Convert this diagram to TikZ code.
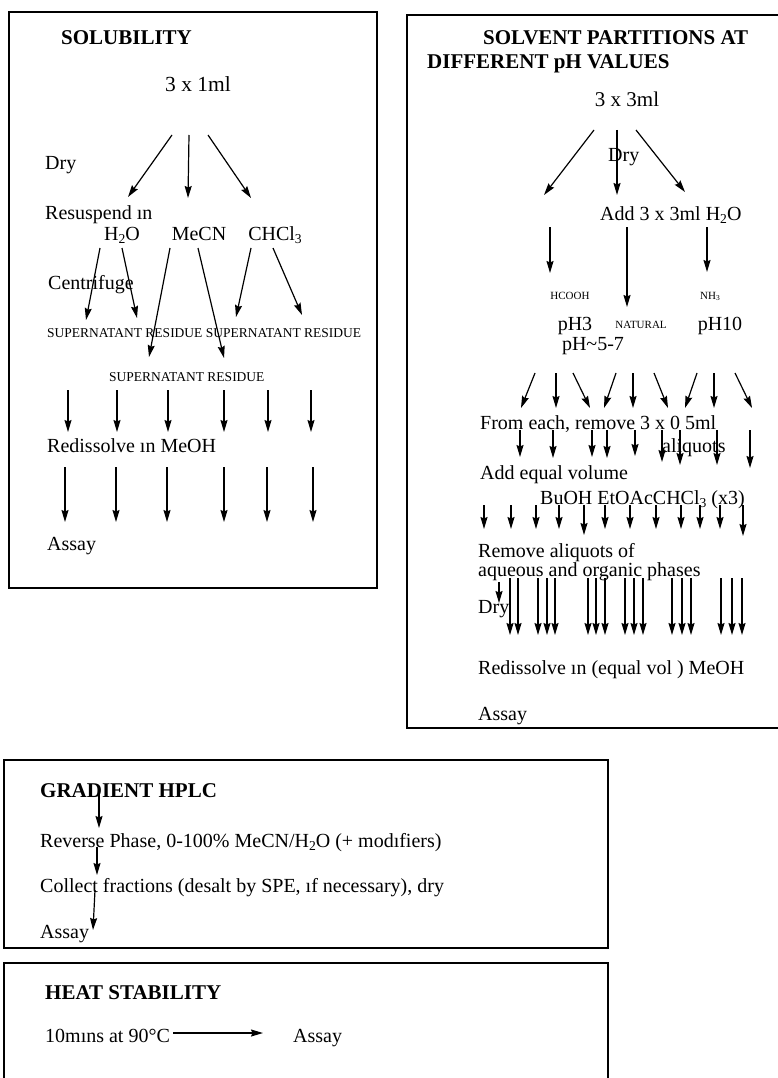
\documentclass[tikz,border=0pt]{standalone}
\usepackage{fontspec}
\setmainfont{Liberation Serif}
\usetikzlibrary{arrows.meta}
\newcommand\sbs[1]{\raisebox{-0.35ex}{\scalebox{0.68}{#1}}}
\newcommand\arw[5]{\coordinate (#1s) at (#2,#3);\coordinate (#1e) at (#4,#5);\draw[arr] (#1s) -- (#1e);}
\begin{document}
\begin{tikzpicture}[x=1pt,y=-1pt,
  txt/.style={inner sep=0pt, anchor=base west, font=\fontsize{20}{22}\selectfont},
  ctxt/.style={txt, anchor=base},
  hd/.style={txt, font=\fontsize{21}{23}\selectfont\bfseries},
  sm/.style={txt, font=\fontsize{13.5}{15}\selectfont},
  tinyc/.style={ctxt, font=\fontsize{11}{12}\selectfont},
  arr/.style={-{Stealth[length=12pt,width=7pt,inset=1.5pt]}, line width=1.2pt},
  frame/.style={line width=1.4pt}]
\useasboundingbox (0,0) rectangle (778,1078);
\fill[white] (0,0) rectangle (778,1078);

% ---------------- SOLUBILITY ----------------
\draw[frame] (9,12) rectangle (377,588);
\node[hd] (solt) at (61,45) {SOLUBILITY};
\node[ctxt, font=\fontsize{21.5}{23}\selectfont] (s3) at (198,92) {3 x 1ml};
\node[txt] (sdry) at (45,170) {Dry};
\node[txt] (sres) at (45,219) {Resuspend ın};
\node[ctxt] (sh2o) at (122,240) {H\sbs{2}O};
\node[ctxt] (smecn) at (199,240) {MeCN};
\node[ctxt] (schcl) at (275,240) {CHCl\sbs{3}};
\node[txt] (scen) at (48,289) {Centrifuge};
\node[sm] (ssr1) at (47,337) {SUPERNATANT RESIDUE SUPERNATANT RESIDUE};
\node[sm] (ssr2) at (109,381) {SUPERNATANT RESIDUE};
\node[txt] (sred) at (47,452) {Redissolve ın MeOH};
\node[txt] (sass) at (47,550) {Assay};

\arw{sa1}{172}{135}{128}{197}
\arw{sa2}{189}{135}{188}{198}
\arw{sa3}{208}{135}{251}{198}
\arw{sb1}{100}{248}{86}{320}
\arw{sb2}{122}{248}{137}{318}
\arw{sb3}{170}{248}{149}{357}
\arw{sb4}{198}{248}{224}{358}
\arw{sb5}{251}{248}{236}{317}
\arw{sb6}{273}{248}{302}{315}
\foreach \n/\x in {1/68,2/117,3/168,4/224,5/268,6/311}{\arw{sc\n}{\x}{390}{\x}{432}}
\foreach \n/\x in {1/65,2/116,3/167,4/224,5/267,6/313}{\arw{sd\n}{\x}{467}{\x}{522}}

% ---------------- SOLVENT PARTITIONS ----------------
\draw[frame] (778,15) -- (407,15) -- (407,728) -- (778,728);
\node[hd] (pt1) at (483,45) {SOLVENT PARTITIONS AT};
\node[hd] (pt2) at (427,69) {DIFFERENT pH VALUES};
\node[ctxt, font=\fontsize{21}{23}\selectfont] (p3) at (627,107) {3 x 3ml};
\node[txt] (pdry) at (608,162) {Dry};
\node[txt] (padd) at (600,220) {Add 3 x 3ml H\sbs{2}O};
\node[tinyc] (phc) at (570,299) {HCOOH};
\node[tinyc] (pnh) at (710,299) {NH\sbs{3}};
\node[ctxt] (pph3) at (575,330) {pH3};
\node[tinyc] (pnat) at (641,328) {NATURAL};
\node[ctxt] (pph10) at (720,330) {pH10};
\node[ctxt] (pph57) at (593,350) {pH\textasciitilde 5-7};
\node[txt] (pfrom) at (480,429) {From each, remove 3 x 0 5ml};
\node[txt] (paliq) at (662,452) {aliquots};
\node[txt] (pequal) at (480,479) {Add equal volume};
\node[txt] (psolv) at (540,504) {BuOH EtOAcCHCl\sbs{3} (x3)};
\node[txt] (prem1) at (478,557) {Remove aliquots of};
\node[txt] (prem2) at (478,576) {aqueous and organic phases};
\node[txt] (pdry2) at (478,613) {Dry};
\node[txt] (pred) at (478,674) {Redissolve ın (equal vol ) MeOH};
\node[txt] (pass) at (478,720) {Assay};

\arw{pa1}{594}{130}{544}{195}
\arw{pa2}{617}{130}{617}{195}
\arw{pa3}{636}{130}{685}{192}
\arw{pb1}{550}{227}{550}{273}
\arw{pb2}{627}{227}{627}{307}
\arw{pb3}{707}{227}{707}{272}
\foreach \n/\x/\e in {1/535/521,2/556/556,3/573/590,4/616/604,5/633/633,6/654/668,7/697/685,8/714/714,9/735/752}{\arw{pc\n}{\x}{373}{\e}{408}}
\foreach \n/\x/\e in {1/520/457,2/553/458,3/592/457,4/607/458,5/635/456,6/662/462,7/680/465,8/717/465,9/750/468}{\arw{pd\n}{\x}{430}{\x}{\e}}
\foreach \n/\x/\e in {1/484/529,2/511/529,3/536/529,4/559/529,5/584/535,6/605/529,7/630/529,8/656/529,9/681/529,10/700/529,11/720/529,12/743/536}{\arw{pe\n}{\x}{505}{\x}{\e}}
\arw{pf0}{499}{582}{499}{603}
\foreach \n/\x in {1/510,2/518,3/538,4/547,5/555,6/588,7/596,8/605,9/625,10/634,11/643,12/672,13/682,14/691,15/721,16/732,17/742}{\arw{pf\n}{\x}{578}{\x}{635}}

% ---------------- GRADIENT HPLC ----------------
\draw[frame] (4,760) rectangle (608,948);
\node[hd] (gt) at (40,797) {GRADIENT HPLC};
\node[txt] (grev) at (40,847) {Reverse Phase, 0-100\% MeCN/H\sbs{2}O (+ modıfiers)};
\node[txt] (gcol) at (40,892) {Collect fractions (desalt by SPE, ıf necessary), dry};
\node[txt] (gass) at (40,938) {Assay};
\arw{ga1}{99}{787}{99}{828}
\arw{ga2}{97}{847}{97}{875}
\arw{ga3}{95}{890}{93}{930}

% ---------------- HEAT STABILITY ----------------
\draw[frame] (4,1078) -- (4,963) -- (608,963) -- (608,1078);
\node[hd] (ht) at (45,999) {HEAT STABILITY};
\node[txt] (hten) at (45,1042) {10mıns at 90°C};
\node[txt] (hass) at (293,1042) {Assay};
\draw[arr] (hten.east |- 0,1033) ++(3,0) coordinate (hs) -- (263,1033) coordinate (he);
\end{tikzpicture}
\end{document}
